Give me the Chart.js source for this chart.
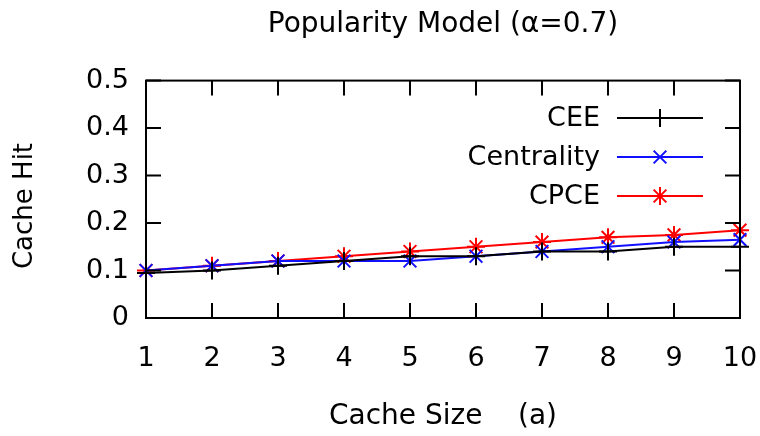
<!DOCTYPE html>
<html>
<head>
<meta charset="utf-8">
<script src="https://cdn.jsdelivr.net/npm/chart.js@4/dist/chart.umd.min.js"></script>
<style>
  html, body { margin: 0; padding: 0; background: #fff; }
  #wrap { width: 760px; height: 436px; }
</style>
</head>
<body>
<div id="wrap"><canvas id="c" width="760" height="436"></canvas></div>
<script>
const cacheSizes = [1, 2, 3, 4, 5, 6, 7, 8, 9, 10];
const ceeValues = [0.095, 0.10, 0.11, 0.12, 0.13, 0.13, 0.14, 0.14, 0.15, 0.15];
const centralityValues = [0.10, 0.11, 0.12, 0.12, 0.12, 0.13, 0.14, 0.15, 0.16, 0.165];
const cpceValues = [0.10, 0.11, 0.12, 0.13, 0.14, 0.15, 0.16, 0.17, 0.175, 0.185];
const seriesNames = ['CEE', 'Centrality', 'CPCE'];
const yTickValues = [0, 0.1, 0.2, 0.3, 0.4, 0.5];
const yTitle = 'Cache Hit';

const FONT = "'DejaVu Sans', Verdana, sans-serif";
const FS = 27;

function drawMarker(ctx, style, x, y, r) {
  ctx.beginPath();
  if (style === 'cross' || style === 'star') {
    ctx.moveTo(x - r, y); ctx.lineTo(x + r, y);
    ctx.moveTo(x, y - r); ctx.lineTo(x, y + r);
  }
  if (style === 'crossRot' || style === 'star') {
    const d = r * Math.SQRT1_2;
    ctx.moveTo(x - d, y - d); ctx.lineTo(x + d, y + d);
    ctx.moveTo(x - d, y + d); ctx.lineTo(x + d, y - d);
  }
  ctx.stroke();
}

const framePlugin = {
  id: 'frame',
  afterDraw(chart) {
    const { ctx, chartArea: a, scales } = chart;
    ctx.save();
    ctx.strokeStyle = '#000';
    ctx.lineWidth = 2;
    ctx.strokeRect(a.left, a.top, a.right - a.left, a.bottom - a.top);
    const tl = 15;
    ctx.beginPath();
    scales.y.ticks.forEach(t => {
      const py = scales.y.getPixelForValue(t.value);
      ctx.moveTo(a.left, py); ctx.lineTo(a.left + tl, py);
      ctx.moveTo(a.right, py); ctx.lineTo(a.right - tl, py);
    });
    scales.x.ticks.forEach((t, i) => {
      const px = scales.x.getPixelForTick(i);
      ctx.moveTo(px, a.bottom); ctx.lineTo(px, a.bottom - tl);
      ctx.moveTo(px, a.top); ctx.lineTo(px, a.top + tl);
    });
    ctx.stroke();

    // y axis title
    ctx.save();
    ctx.translate(25, 206);
    ctx.rotate(-Math.PI / 2);
    ctx.font = '26px ' + FONT;
    ctx.fillStyle = '#000';
    ctx.textAlign = 'center';
    ctx.textBaseline = 'middle';
    ctx.fillText(yTitle, 0, 0);
    ctx.restore();

    // legend
    const rows = [118, 157, 196];
    ctx.font = FS + 'px ' + FONT;
    ctx.textAlign = 'right';
    ctx.textBaseline = 'middle';
    chart.data.datasets.forEach((ds, i) => {
      const y = rows[i];
      ctx.fillStyle = '#000';
      ctx.fillText(ds.label, 600, y + 1);
      ctx.strokeStyle = ds.borderColor;
      ctx.lineWidth = 2;
      ctx.beginPath();
      ctx.moveTo(617, y); ctx.lineTo(703, y);
      ctx.stroke();
      drawMarker(ctx, ds.pointStyle, 660, y, ds.pointRadius);
    });
    ctx.restore();
  }
};

function mk(label, data, color, style) {
  return {
    label, data,
    borderColor: color, backgroundColor: color,
    borderWidth: 2,
    pointStyle: style, pointRadius: 9, pointBorderWidth: 2,
    pointBorderColor: color,
    tension: 0, fill: false
  };
}

new Chart(document.getElementById('c'), {
  type: 'line',
  data: {
    labels: cacheSizes,
    datasets: [
      mk(seriesNames[0], ceeValues, '#000000', 'cross'),
      mk(seriesNames[1], centralityValues, '#1010ff', 'crossRot'),
      mk(seriesNames[2], cpceValues, '#ff0000', 'star')
    ]
  },
  options: {
    responsive: false,
    animation: false,
    layout: { padding: { left: 0, right: 20, top: 0, bottom: 0 } },
    plugins: {
      legend: { display: false },
      tooltip: { enabled: false },
      title: {
        display: true,
        text: 'Popularity Model (\u03b1=0.7)',
        fullSize: false,
        color: '#000',
        font: { family: FONT, size: 28, weight: 'normal', lineHeight: 1.2 },
        padding: { top: 8, bottom: 39 }
      }
    },
    scales: {
      x: {
        type: 'category',
        offset: false,
        grid: { display: false, drawTicks: false },
        border: { display: false },
        ticks: {
          color: '#000', padding: 25, maxRotation: 0, autoSkip: false,
          font: { family: FONT, size: FS }
        },
        title: {
          display: true, text: 'Cache Size    (a)', color: '#000',
          font: { family: FONT, size: 28, lineHeight: 1.2 },
          padding: { top: 0, bottom: 2 }
        },
        afterFit(s) { s.height = 118; s.paddingLeft = 0; s.paddingRight = 0; }
      },
      y: {
        min: 0, max: 0.5,
        grid: { display: false, drawTicks: false },
        border: { display: false },
        afterBuildTicks(s) { s.ticks = yTickValues.map(v => ({ value: v })); },
        ticks: {
          color: '#000', padding: 17,
          font: { family: FONT, size: FS },
          callback: v => (v === 0 ? '0' : v.toFixed(1))
        },
        title: { display: false },
        afterFit(s) { s.width = 146; s.paddingTop = 0; s.paddingBottom = 0; }
      }
    }
  },
  plugins: [framePlugin]
});
</script>
</body>
</html>
